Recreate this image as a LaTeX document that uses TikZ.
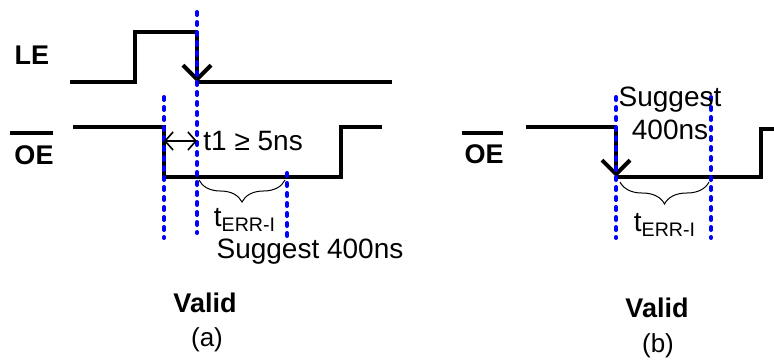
\documentclass[tikz,border=0pt]{standalone}
\usepackage{fontspec}
\setmainfont{Liberation Sans}
\usetikzlibrary{arrows.meta,decorations.pathreplacing}

\begin{document}
\begin{tikzpicture}[x=0.5pt, y=-0.5pt,
	wave/.style={line width=2pt, line join=miter},
	fall/.style={wave, -{Straight Barb[length=7pt,width=14pt]}},
	marker/.style={blue, line width=2pt, line cap=round, dash pattern=on 1.5pt off 3.5pt},
	gap/.style={line width=0.8pt, {Straight Barb[length=4pt,width=9pt]}-{Straight Barb[length=4pt,width=9pt]}},
	curly/.style={line width=0.5pt, decorate, decoration={brace, mirror, amplitude=11pt}},
	siglabel/.style={font=\fontsize{13.5pt}{15pt}\selectfont\bfseries},
	txt/.style={font=\fontsize{14pt}{16.5pt}\selectfont, inner sep=0pt},
	caption/.style={font=\fontsize{13pt}{15pt}\selectfont, inner sep=0pt}]
\useasboundingbox (0,0) rectangle (774,360);
% drawing the LE signal
\node[siglabel] (leA) at (32,55) {LE};
\coordinate (leHigh) at (197,32);
\coordinate (leLow) at (197,82);
\draw[wave] (70,82) -- (135,82) -- (135,32) -- (leHigh);
\draw[fall] (leHigh) -- (leLow);
\draw[wave] (leLow) -- (392,82);
% end of LE signal
% drawing the OE signal (a)
\node[siglabel] (oeA) at (34,155) {OE};
\draw[line width=1.8pt] (10,133) -- (53,133);
\draw[wave] (73,127) -- (164,127) -- (164,177) -- (341,177) -- (341,127) -- (382,127);
% end of OE signal (a)
% markers (a)
\coordinate (mA1) at (164,141);
\coordinate (mA2) at (197,141);
\draw[marker] (164,97) -- (164,238);
\draw[marker] (197,12) -- (197,233);
\draw[marker] (287,173) -- (287,242);
\draw[gap] (mA1) -- (mA2);
\node[txt, anchor=west] (t1) at (203,141) {t1 ≥ 5ns};
\coordinate (brA1) at (199,180);
\coordinate (brA2) at (285,180);
\draw[curly] (brA1) -- (brA2);
\node[txt] (terrA) at (245,220) {t\textsubscript{ERR-I}};
\node[txt] (suggA) at (310,252) {Suggest 400ns};
\node[siglabel] (validA) at (205,303) {Valid};
\node[caption] (capA) at (207,340) {(a)};
% drawing the OE signal (b)
\node[siglabel] (oeB) at (484,154) {OE};
\draw[line width=1.8pt] (462,133) -- (503,133);
\coordinate (oeHigh) at (616,127);
\coordinate (oeLow) at (616,177);
\draw[wave] (526,127) -- (oeHigh);
\draw[fall] (oeHigh) -- (oeLow);
\draw[wave] (oeLow) -- (761,177) -- (761,129) -- (778,129);
% end of OE signal (b)
% markers (b)
\draw[marker] (616,97) -- (616,238);
\draw[marker] (711,97) -- (711,238);
\coordinate (brB1) at (620,182);
\coordinate (brB2) at (709,182);
\draw[curly] (brB1) -- (brB2);
\node[txt] (terrB) at (665,225) {t\textsubscript{ERR-I}};
\node[txt, align=center] (suggB) at (670,113) {Suggest\\400ns};
\node[siglabel] (validB) at (657,308) {Valid};
\node[caption] (capB) at (658,346) {(b)};
\end{tikzpicture}
\end{document}
